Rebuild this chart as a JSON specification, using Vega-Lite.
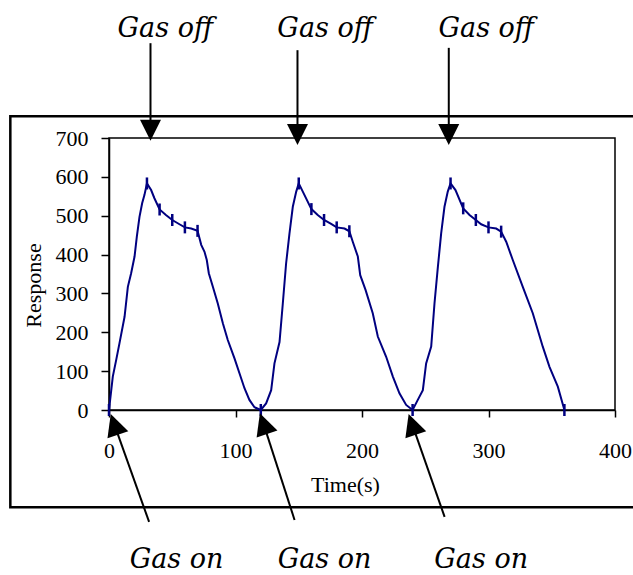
{
  "$schema": "https://vega.github.io/schema/vega-lite/v6.json",
  "width": 506,
  "height": 272,
  "autosize": "none",
  "padding": {"left": 109, "top": 138, "right": 18, "bottom": 165},
  "background": "white",
  "config": {
    "view": {"stroke": "black", "strokeWidth": 1.5},
    "font": "Liberation Serif"
  },
  "datasets": {
    "curve": [
      {"t": 0, "v": 0}, {"t": 3, "v": 86}, {"t": 5.7, "v": 129}, {"t": 8.3, "v": 172}, {"t": 12.3, "v": 240},
      {"t": 14.9, "v": 317}, {"t": 17.5, "v": 352}, {"t": 20.2, "v": 395}, {"t": 22, "v": 446}, {"t": 24.1, "v": 497},
      {"t": 26.2, "v": 532}, {"t": 28, "v": 553}, {"t": 30, "v": 583}, {"t": 33.3, "v": 566}, {"t": 35.9, "v": 545},
      {"t": 40, "v": 516}, {"t": 45, "v": 502}, {"t": 50, "v": 489}, {"t": 55.7, "v": 478}, {"t": 60, "v": 470},
      {"t": 65, "v": 467}, {"t": 70, "v": 461}, {"t": 72.9, "v": 425}, {"t": 75.5, "v": 407}, {"t": 77.3, "v": 386},
      {"t": 78.9, "v": 352}, {"t": 82.1, "v": 317}, {"t": 86, "v": 274}, {"t": 90, "v": 223}, {"t": 93.9, "v": 180},
      {"t": 99.2, "v": 133}, {"t": 103.2, "v": 94}, {"t": 107.1, "v": 56}, {"t": 111, "v": 26}, {"t": 115, "v": 7},
      {"t": 120, "v": 0}, {"t": 124.2, "v": 17}, {"t": 128.2, "v": 51}, {"t": 130.8, "v": 120}, {"t": 134.8, "v": 175},
      {"t": 137.4, "v": 274}, {"t": 140, "v": 377}, {"t": 142.7, "v": 455}, {"t": 145.3, "v": 523}, {"t": 148, "v": 562},
      {"t": 150, "v": 583}, {"t": 153.2, "v": 562}, {"t": 160, "v": 517}, {"t": 165, "v": 502}, {"t": 170, "v": 489},
      {"t": 175.6, "v": 479}, {"t": 180, "v": 470}, {"t": 186.2, "v": 467}, {"t": 190, "v": 460}, {"t": 192.7, "v": 433},
      {"t": 196.7, "v": 395}, {"t": 198.6, "v": 347}, {"t": 202.8, "v": 309}, {"t": 208.5, "v": 249}, {"t": 212.5, "v": 189},
      {"t": 219.1, "v": 137}, {"t": 224.4, "v": 86}, {"t": 229.6, "v": 43}, {"t": 234.9, "v": 13}, {"t": 240, "v": 0},
      {"t": 244.1, "v": 26}, {"t": 248.1, "v": 51}, {"t": 250.7, "v": 120}, {"t": 254.7, "v": 163}, {"t": 257.3, "v": 274},
      {"t": 260, "v": 369}, {"t": 262.6, "v": 455}, {"t": 265.2, "v": 523}, {"t": 267.8, "v": 562}, {"t": 270, "v": 583},
      {"t": 273.9, "v": 566}, {"t": 280, "v": 519}, {"t": 285, "v": 502}, {"t": 290, "v": 489}, {"t": 294.2, "v": 478},
      {"t": 300, "v": 470}, {"t": 306.1, "v": 467}, {"t": 310, "v": 459}, {"t": 314, "v": 433}, {"t": 319.2, "v": 386},
      {"t": 327.1, "v": 317}, {"t": 335, "v": 249}, {"t": 342.9, "v": 163}, {"t": 348.2, "v": 111}, {"t": 354.8, "v": 60},
      {"t": 360, "v": 0}
    ],
    "markers": [
      {"t": 0, "v": 0}, {"t": 30, "v": 583}, {"t": 40, "v": 516}, {"t": 50, "v": 489}, {"t": 60, "v": 470}, {"t": 70, "v": 461},
      {"t": 120, "v": 0}, {"t": 150, "v": 583}, {"t": 160, "v": 517}, {"t": 170, "v": 489}, {"t": 180, "v": 470}, {"t": 190, "v": 460},
      {"t": 240, "v": 0}, {"t": 270, "v": 583}, {"t": 280, "v": 519}, {"t": 290, "v": 489}, {"t": 300, "v": 470}, {"t": 310, "v": 459},
      {"t": 360, "v": 0}
    ],
    "frame": [{"t": -78, "v": 756, "t2": 440, "v2": -250}],
    "offShafts": [
      {"t": 32.8, "v": 944, "v2": 720},
      {"t": 149, "v": 926, "v2": 709},
      {"t": 268.6, "v": 932, "v2": 709}
    ],
    "offHeads": [
      {"t": 32.8, "v": 720},
      {"t": 149, "v": 709},
      {"t": 268.6, "v": 709}
    ],
    "offLabels": [
      {"t": 44.5, "v": 959, "label": "Gas off"},
      {"t": 170.8, "v": 959, "label": "Gas off"},
      {"t": 298.2, "v": 959, "label": "Gas off"}
    ],
    "onShafts": [
      {"t": 31.7, "v": -288, "t2": 4.2, "v2": -37},
      {"t": 146.7, "v": -283, "t2": 122.1, "v2": -35},
      {"t": 265.3, "v": -275, "t2": 239.7, "v2": -37}
    ],
    "onHeads": [
      {"t": 4.2, "v": -37},
      {"t": 122.1, "v": -35},
      {"t": 239.7, "v": -37}
    ],
    "onLabels": [
      {"t": 53.4, "v": -406, "label": "Gas on"},
      {"t": 170.4, "v": -406, "label": "Gas on"},
      {"t": 294.2, "v": -406, "label": "Gas on"}
    ]
  },
  "encoding": {
    "x": {
      "field": "t", "type": "quantitative",
      "scale": {"domain": [0, 400], "nice": false, "zero": false},
      "axis": {
        "title": "Time(s)", "values": [0, 100, 200, 300, 400], "grid": false,
        "tickSize": 7, "tickWidth": 1.5, "tickColor": "black",
        "domainColor": "black", "domainWidth": 1.5,
        "labelFont": "Liberation Serif", "labelFontSize": 22, "labelColor": "black",
        "labelPadding": 23, "labelFlush": false, "labelOverlap": false,
        "titleFont": "Liberation Serif", "titleFontSize": 22, "titleFontWeight": "normal", "titleColor": "black",
        "titleX": 236, "titleY": 81, "titleBaseline": "alphabetic"
      }
    },
    "y": {
      "field": "v", "type": "quantitative",
      "scale": {"domain": [0, 700], "nice": false, "zero": false},
      "axis": {
        "title": "Response", "values": [0, 100, 200, 300, 400, 500, 600, 700], "grid": false,
        "tickSize": 8, "tickWidth": 1.5, "tickColor": "black",
        "domainColor": "black", "domainWidth": 1.5,
        "labelFont": "Liberation Serif", "labelFontSize": 22, "labelColor": "black",
        "labelPadding": 13, "labelFlush": false, "labelOverlap": false,
        "titleFont": "Liberation Serif", "titleFontSize": 22, "titleFontWeight": "normal", "titleColor": "black",
        "titleAngle": -90, "titleX": -69, "titleY": 147, "titleBaseline": "alphabetic", "titleAlign": "center"
      }
    }
  },
  "layer": [
    {
      "data": {"name": "frame"},
      "mark": {"type": "rect", "fill": "transparent", "stroke": "black", "strokeWidth": 2.5},
      "encoding": {"x2": {"field": "t2"}, "y2": {"field": "v2"}}
    },
    {
      "data": {"name": "curve"},
      "mark": {"type": "line", "color": "#000080", "strokeWidth": 2},
      "encoding": {}
    },
    {
      "data": {"name": "markers"},
      "mark": {"type": "point", "shape": "M0,-1L0,1", "filled": false, "stroke": "#000080", "strokeWidth": 2.5, "size": 144, "opacity": 1},
      "encoding": {}
    },
    {
      "data": {"name": "offShafts"},
      "mark": {"type": "rule", "color": "black", "strokeWidth": 2},
      "encoding": {"y2": {"field": "v2"}}
    },
    {
      "data": {"name": "offHeads"},
      "mark": {"type": "point", "shape": "M0,1L-1,-1L1,-1Z", "filled": true, "fill": "black", "strokeWidth": 0, "size": 441, "opacity": 1},
      "encoding": {}
    },
    {
      "data": {"name": "offLabels"},
      "mark": {"type": "text", "font": "DejaVu Serif", "fontStyle": "italic", "fontSize": 27, "align": "center", "baseline": "alphabetic", "color": "black"},
      "encoding": {"text": {"field": "label"}}
    },
    {
      "data": {"name": "onShafts"},
      "mark": {"type": "rule", "color": "black", "strokeWidth": 2},
      "encoding": {"x2": {"field": "t2"}, "y2": {"field": "v2"}}
    },
    {
      "data": {"name": "onHeads"},
      "mark": {"type": "point", "shape": "M0,-1L-1,1L1,1Z", "filled": true, "fill": "black", "strokeWidth": 0, "size": 484, "angle": 341, "opacity": 1},
      "encoding": {}
    },
    {
      "data": {"name": "onLabels"},
      "mark": {"type": "text", "font": "DejaVu Serif", "fontStyle": "italic", "fontSize": 27, "align": "center", "baseline": "alphabetic", "color": "black"},
      "encoding": {"text": {"field": "label"}}
    }
  ]
}
